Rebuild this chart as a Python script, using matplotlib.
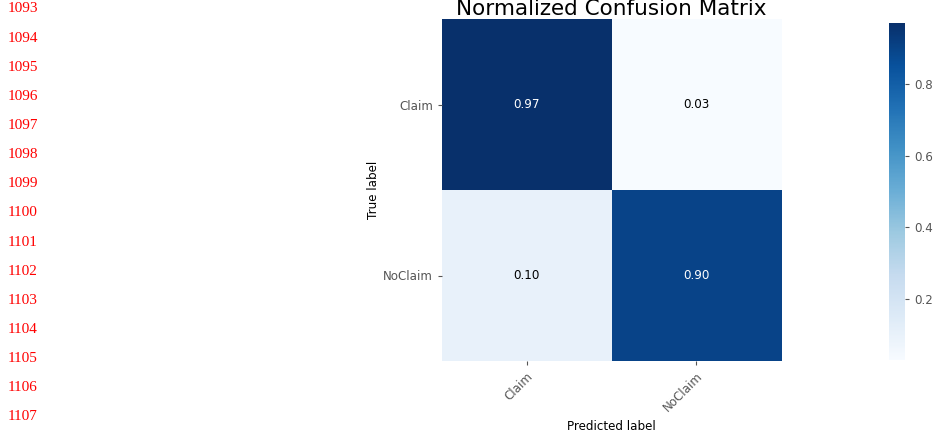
import matplotlib.pyplot as plt
import numpy as np

# confusion matrix values (normalized)
classes = ['Claim', 'NoClaim']
cm = np.array([[0.97, 0.03],
               [0.10, 0.90]])
line_numbers = list(range(1093, 1108))

fig = plt.figure(figsize=(9.34, 4.34), dpi=100)

# red line numbers down the left margin
for i, n in enumerate(line_numbers):
    fig.text(8 / 934, 1 - (9 + i * 29.14) / 434, str(n), color='red',
             fontsize=11, family='Liberation Serif', ha='left', va='center')

ax = fig.add_axes([442 / 934, 73 / 434, 339 / 934, 342 / 434])
im = ax.imshow(cm, cmap='Blues', aspect='auto', interpolation='nearest')
ax.set_title('Normalized Confusion Matrix', fontsize=15.5, pad=0.5)

ax.set_xticks(np.arange(len(classes)))
ax.set_yticks(np.arange(len(classes)))
ax.set_xticklabels(classes, rotation=45, ha='right', rotation_mode='anchor')
ax.set_yticklabels(classes)
ax.tick_params(colors='#555555', labelsize=8.6, length=3, width=0.8)
for s in ax.spines.values():
    s.set_visible(False)

thresh = cm.max() / 2.
for i in range(cm.shape[0]):
    for j in range(cm.shape[1]):
        ax.text(j, i, format(cm[i, j], '.2f'), ha='center', va='center',
                fontsize=8.6, color='white' if cm[i, j] > thresh else 'black')

ax.set_ylabel('True label', fontsize=8.6, labelpad=2)
ax.set_xlabel('Predicted label', fontsize=8.6)

cax = fig.add_axes([889 / 934, 74 / 434, 16 / 934, 337 / 434])
cb = fig.colorbar(im, cax=cax)
cb.outline.set_visible(False)
cb.set_ticks([0.2, 0.4, 0.6, 0.8])
cax.tick_params(colors='#555555', labelsize=8.6, length=3, width=0.8)

fig.savefig('out.png', dpi=100)
